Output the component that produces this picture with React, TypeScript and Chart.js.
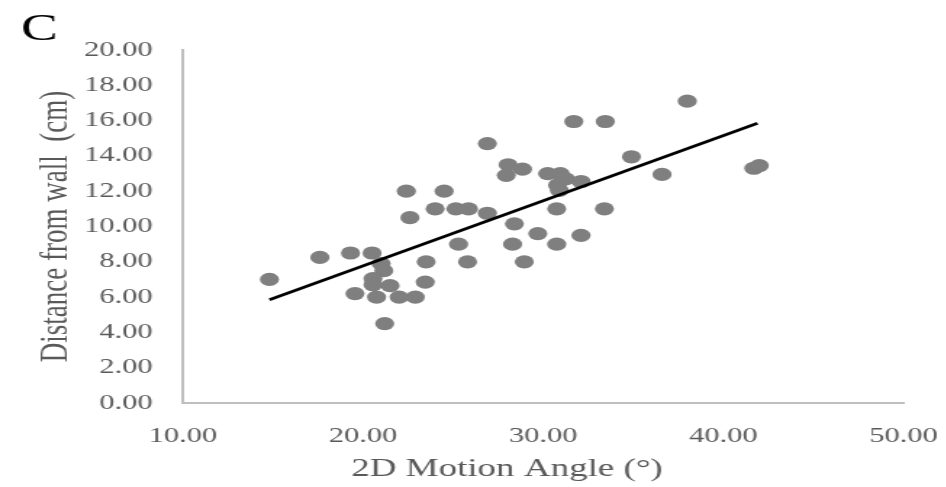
import React, { useEffect, useRef } from "react";
import { Chart, registerables } from "chart.js";

Chart.register(...registerables);

const angleX: number[] = [
  14.8, 17.6, 19.3, 20.5, 21.0, 21.15, 20.55, 20.55, 21.5, 19.55,
  20.75, 22.0, 22.9, 21.2, 23.5, 23.45, 22.4, 22.6, 24.0, 24.5,
  25.15, 25.85, 26.9, 25.3, 25.8, 26.9, 28.05, 28.85, 27.95, 28.4,
  28.3, 28.95, 29.7, 30.25, 30.95, 31.25, 30.8, 30.9, 32.1, 30.75,
  33.4, 30.75, 32.1, 31.7, 33.45, 34.9, 36.6, 38.0, 41.7, 42.0,
];
const distanceY: number[] = [
  7.0, 8.25, 8.5, 8.5, 7.9, 7.5, 7.05, 6.7, 6.65, 6.2,
  6.0, 6.0, 6.0, 4.5, 8.0, 6.85, 12.0, 10.5, 11.0, 12.0,
  11.0, 11.0, 10.75, 9.0, 8.0, 14.7, 13.5, 13.25, 12.9, 10.15,
  9.0, 8.0, 9.6, 13.0, 13.0, 12.7, 12.35, 12.05, 12.55, 11.0,
  11.0, 9.0, 9.5, 15.95, 15.95, 13.95, 12.95, 17.1, 13.3, 13.45,
];
const trendX: number[] = [14.8, 41.9];
const trendY: number[] = [5.85, 15.85];

const xTicks: number[] = [10, 20, 30, 40, 50];
const yTicks: number[] = [0, 2, 4, 6, 8, 10, 12, 14, 16, 18, 20];
const panelLabel = "C";
const xTitle = "2D Motion Angle (°)";
const yTitle = "Distance from wall  (cm)";

const STRETCH = 1.45;
const W = Math.round(946 / STRETCH);
const H = 487;

export default function App() {
  const ref = useRef<HTMLCanvasElement | null>(null);

  useEffect(() => {
    const canvas = ref.current;
    if (!canvas) return;
    const points = angleX.map((x, i) => ({ x, y: distanceY[i] }));
    const trend = trendX.map((x, i) => ({ x, y: trendY[i] }));
    const labelPlugin = {
      id: "panelLabel",
      afterDraw(chart: any) {
        const ctx = chart.ctx;
        ctx.save();
        ctx.fillStyle = "#000";
        ctx.font = "38px 'Liberation Serif', serif";
        ctx.textAlign = "left";
        ctx.textBaseline = "alphabetic";
        ctx.fillText(panelLabel, 14.5, 39.5);
        ctx.fillStyle = "#595959";
        ctx.font = "25.5px 'Liberation Serif', serif";
        ctx.textAlign = "center";
        ctx.textBaseline = "middle";
        ctx.fillText(xTitle, 507 / STRETCH, 469);
        ctx.restore();
      },
    };
    const chart = new Chart(canvas, {
      type: "scatter",
      data: {
        datasets: [
          {
            type: "line",
            data: trend,
            borderColor: "#000",
            borderWidth: 2.6,
            pointRadius: 0,
            fill: false,
            order: 0,
          } as any,
          {
            data: points,
            backgroundColor: "#7f7f7f",
            borderColor: "#7f7f7f",
            borderWidth: 0,
            pointRadius: 6.6,
            order: 1,
          },
        ],
      },
      options: {
        responsive: false,
        animation: false,
        devicePixelRatio: 1,
        layout: { padding: { left: 22.5, right: 29, top: 50, bottom: 4 } },
        plugins: { legend: { display: false }, tooltip: { enabled: false } },
        scales: {
          x: {
            type: "linear",
            min: xTicks[0],
            max: xTicks[xTicks.length - 1],
            afterBuildTicks: (s: any) => {
              s.ticks = xTicks.map((v) => ({ value: v }));
            },
            afterFit: (s: any) => {
              s.height = 80;
              s.paddingLeft = 0;
              s.paddingRight = 0;
            },
            grid: { display: false, drawTicks: false },
            border: { display: true, color: "#bfbfbf", width: 2 },
            ticks: {
              padding: 21,
              color: "#595959",
              font: { family: "'Liberation Serif', serif", size: 21 },
              callback: (v: any) => Number(v).toFixed(2),
              maxRotation: 0,
            },
            title: { display: false },
          },
          y: {
            type: "linear",
            min: yTicks[0],
            max: yTicks[yTicks.length - 1],
            afterBuildTicks: (s: any) => {
              s.ticks = yTicks.map((v) => ({ value: v }));
            },
            afterFit: (s: any) => {
              s.width = 103.7;
            },
            grid: { display: false, drawTicks: false },
            border: { display: true, color: "#bfbfbf", width: 2 },
            ticks: {
              padding: 21,
              color: "#595959",
              font: { family: "'Liberation Serif', serif", size: 21 },
              callback: (v: any) => Number(v).toFixed(2),
            },
            title: {
              display: true,
              text: yTitle,
              color: "#595959",
              font: { family: "'Liberation Serif', serif", size: 27 },
              padding: { top: 0, bottom: 0 },
            },
          },
        },
      },
      plugins: [labelPlugin],
    });
    return () => chart.destroy();
  }, []);

  return (
    <div
      style={{
        position: "fixed",
        left: 0,
        top: 0,
        width: 946,
        height: H,
        overflow: "hidden",
        background: "#fff",
      }}
    >
      <canvas
        ref={ref}
        width={W}
        height={H}
        style={{
          display: "block",
          width: W + "px",
          height: H + "px",
          transform: `scaleX(${STRETCH})`,
          transformOrigin: "0 0",
        }}
      />
    </div>
  );
}
